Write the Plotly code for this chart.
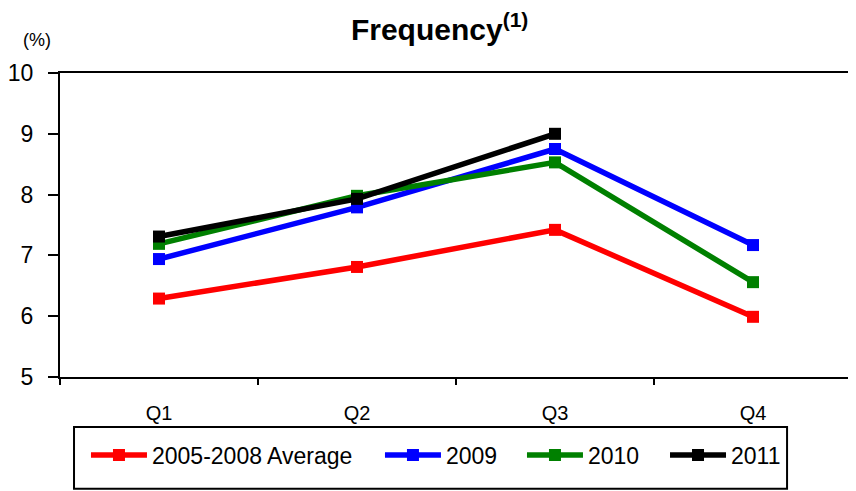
import plotly.graph_objects as go

categories = ["Q1", "Q2", "Q3", "Q4"]
avg_0508 = [6.29, 6.81, 7.42, 5.99]
y2009 = [6.94, 7.79, 8.75, 7.17]
y2010 = [7.19, 7.98, 8.53, 6.56]
y2011 = [7.31, 7.93, 9.0, None]

series = [
    ("2005-2008 Average", avg_0508, "#ff0000"),
    ("2009", y2009, "#0000ff"),
    ("2010", y2010, "#008000"),
    ("2011", y2011, "#000000"),
]
legend_ids = ["legend", "legend2", "legend3", "legend4"]
legend_x = [0.0328, 0.404, 0.5833, 0.7639]

fig = go.Figure()
for (name, vals, color), lid in zip(series, legend_ids):
    fig.add_trace(go.Scatter(
        x=categories, y=vals, name=name, mode="lines+markers",
        line=dict(color=color, width=5.5),
        marker=dict(symbol="square", size=12, color=color),
        legend=lid,
    ))

legend_layout = {}
for lid, lx in zip(legend_ids, legend_x):
    legend_layout[lid] = dict(
        orientation="h", x=lx, xanchor="left", y=-0.2566, yanchor="middle",
        borderwidth=0, itemwidth=56, bgcolor="rgba(0,0,0,0)",
        font=dict(family="Arial", size=23),
    )

fig.update_layout(
    width=848, height=483,
    margin=dict(l=52, r=4, t=65, b=114, autoexpand=False),
    paper_bgcolor="white", plot_bgcolor="white",
    font=dict(family="Arial", color="black"),
    title=dict(text="<b>Frequency<sup>(1)</sup></b>", x=0.509, xanchor="center",
               y=1 - 21 / 483, yanchor="middle", font=dict(family="Arial", size=30),
               automargin=False),
    showlegend=True,
    **legend_layout,
)
fig.add_shape(type="rect", xref="paper", yref="paper",
              x0=0.0177, x1=0.918, y0=-0.368, y1=-0.1645,
              line=dict(color="black", width=2), fillcolor="rgba(0,0,0,0)")
fig.add_annotation(text="(%)", xref="paper", yref="paper", x=-0.029, y=1.109,
                   xanchor="center", yanchor="middle", showarrow=False,
                   font=dict(family="Arial", size=18))

fig.update_xaxes(
    type="category", range=[-0.5, 3.5], automargin=False,
    showline=True, linecolor="black", linewidth=2, mirror=True,
    ticks="outside", ticklen=6, tickcolor="black", tickwidth=2,
    tickson="boundaries", showgrid=False, tickfont=dict(family="Arial", size=20),
    ticklabelstandoff=17,
)
fig.update_yaxes(
    range=[5, 10], dtick=1, automargin=False,
    showline=True, linecolor="black", linewidth=2, mirror=True,
    ticks="outside", ticklen=10, tickcolor="black", tickwidth=2,
    showgrid=False, zeroline=False, tickfont=dict(family="Arial", size=23),
    ticklabelstandoff=10,
)

fig.write_html("out.html")
